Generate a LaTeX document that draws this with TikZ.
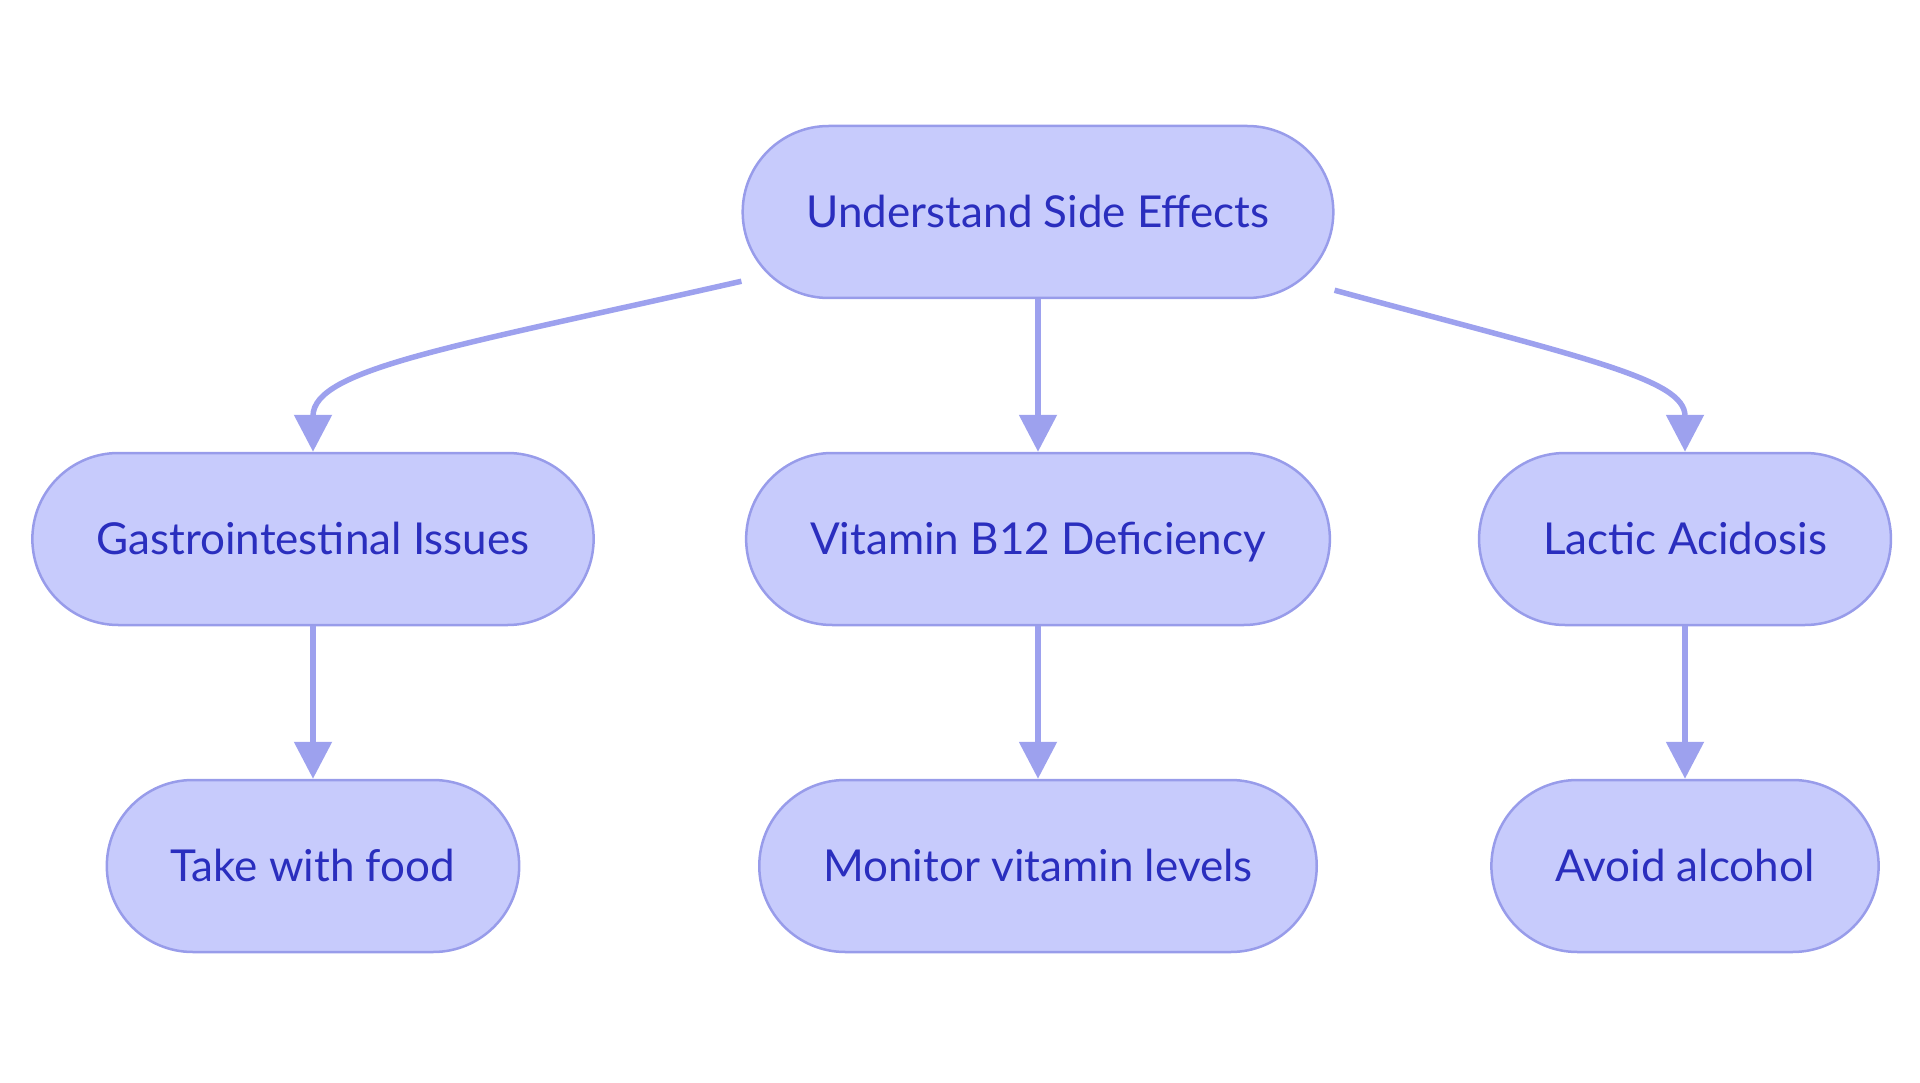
\documentclass[tikz,border=0pt]{standalone}
\usepackage{fontspec}
\setmainfont{Lato}
\usepackage{tikz}
\usetikzlibrary{positioning,arrows.meta}

\definecolor{nodefill}{RGB}{199,203,252}
\definecolor{nodeline}{RGB}{152,156,234}
\definecolor{nodetext}{RGB}{42,46,190}
\definecolor{edgeblue}{RGB}{157,161,238}

\begin{document}
\begin{tikzpicture}[->,>={Triangle[length=37pt,width=37pt]},line width=5.5pt,
  color=edgeblue,node distance=327pt,
  main node/.style={rectangle,rounded corners=86pt,fill=nodefill,
  draw=nodeline,line width=2.5pt,text=nodetext,
  font=\fontsize{44}{52}\selectfont,text height=40pt,text depth=8.4pt,
  minimum height=172pt,inner xsep=64pt}]

  \useasboundingbox (0,0) rectangle (1920pt,-1083pt);

  \node[main node] (effects) at (1038pt,-212pt) {Understand Side Effects};
  \node[main node] (vitamin) [below of=effects] {Vitamin B12 Deficiency};
  \node[main node] (gastro) [left of=vitamin,node distance=725pt] {Gastrointestinal Issues};
  \node[main node] (lactic) [right of=vitamin,node distance=647pt] {Lactic Acidosis};
  \node[main node] (food) [below of=gastro] {Take with food};
  \node[main node] (monitor) [below of=vitamin] {Monitor vitamin levels};
  \node[main node] (alcohol) [below of=lactic] {Avoid alcohol};

  % curved links from the top node
  \draw ([yshift=18pt]effects.south west) .. controls +(-286pt,-65pt) and +(0pt,83pt) .. (gastro.north);
  \draw ([yshift=9pt]effects.south east) .. controls +(250pt,-68pt) and +(0pt,73pt) .. (lactic.north);

  \path
    (effects) edge (vitamin)
    (gastro) edge (food)
    (vitamin) edge (monitor)
    (lactic) edge (alcohol);
\end{tikzpicture}
\end{document}
